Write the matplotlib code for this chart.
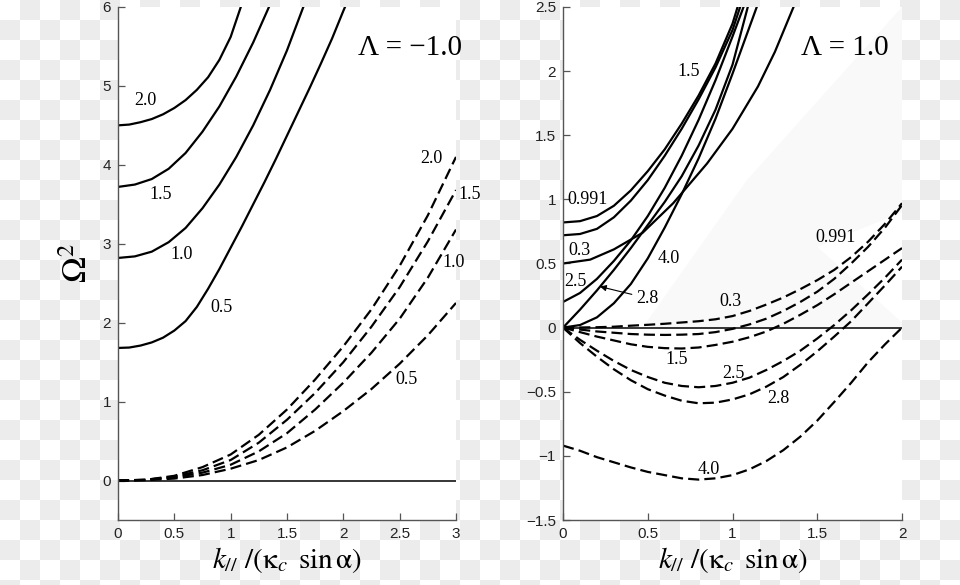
import numpy as np
import matplotlib.pyplot as plt

plt.rcParams['mathtext.fontset'] = 'stix'
plt.rcParams['font.family'] = ['Liberation Sans', 'DejaVu Sans']
SERIF = ['Liberation Serif', 'DejaVu Serif']

# ---- left panel (Lambda = -1.0) ----
l_s20_x = [0, 0.1, 0.2, 0.3, 0.4, 0.5, 0.6, 0.7, 0.8, 0.9, 1.0, 1.09]
l_s20_y = [4.5, 4.51, 4.54, 4.58, 4.64, 4.72, 4.82, 4.95, 5.11, 5.33, 5.62, 6.0]
l_s15_x = [0, 0.15, 0.3, 0.45, 0.6, 0.75, 0.9, 1.05, 1.2, 1.34]
l_s15_y = [3.72, 3.75, 3.82, 3.95, 4.15, 4.42, 4.74, 5.12, 5.55, 6.0]
l_s10_x = [0, 0.15, 0.3, 0.45, 0.6, 0.75, 0.9, 1.05, 1.2, 1.35, 1.5, 1.645]
l_s10_y = [2.82, 2.84, 2.9, 3.02, 3.2, 3.45, 3.75, 4.1, 4.5, 4.95, 5.45, 6.0]
l_s05_x = [0, 0.1, 0.2, 0.3, 0.4, 0.5, 0.6, 0.7, 0.8, 0.9, 1.0, 1.1,
           1.2, 1.3, 1.4, 1.5, 1.6, 1.7, 1.8, 1.9, 2.0, 2.015]
l_s05_y = [1.68, 1.685, 1.71, 1.75, 1.81, 1.9, 2.02, 2.2, 2.43, 2.68, 2.95, 3.22,
           3.5, 3.78, 4.07, 4.37, 4.67, 4.97, 5.28, 5.6, 5.95, 6.0]

l_dash_x = [0, 0.25, 0.5, 0.75, 1.0, 1.25, 1.5, 1.75, 2.0, 2.25, 2.5, 2.75, 3.0]
l_d20 = [0, 0.01, 0.06, 0.17, 0.33, 0.58, 0.9, 1.28, 1.7, 2.17, 2.72, 3.36, 4.1]
l_d15 = [0, 0.01, 0.05, 0.13, 0.26, 0.48, 0.77, 1.11, 1.5, 1.95, 2.45, 3.03, 3.68]
l_d10 = [0, 0.008, 0.04, 0.1, 0.2, 0.37, 0.6, 0.9, 1.24, 1.62, 2.05, 2.57, 3.18]
l_d05 = [0, 0.005, 0.025, 0.07, 0.15, 0.26, 0.42, 0.63, 0.88, 1.16, 1.48, 1.84, 2.25]

# ---- right panel (Lambda = 1.0) ----
r_s0991_x = [0, 0.1, 0.2, 0.3, 0.4, 0.5, 0.6, 0.7, 0.8, 0.9, 1.0, 1.03]
r_s0991_y = [0.82, 0.83, 0.87, 0.95, 1.07, 1.22, 1.39, 1.59, 1.81, 2.06, 2.37, 2.5]
r_s15_x = [0, 0.1, 0.2, 0.3, 0.4, 0.5, 0.6, 0.7, 0.8, 0.9, 1.0, 1.045]
r_s15_y = [0.72, 0.73, 0.77, 0.86, 0.99, 1.15, 1.34, 1.55, 1.78, 2.03, 2.32, 2.5]
r_s03_x = [0, 0.16, 0.3, 0.47, 0.65, 0.85, 1.0, 1.15, 1.25, 1.36]
r_s03_y = [0.5, 0.53, 0.61, 0.74, 0.97, 1.28, 1.55, 1.88, 2.15, 2.5]
r_s25_x = [0, 0.1, 0.2, 0.3, 0.4, 0.5, 0.6, 0.7, 0.8, 0.9, 1.0, 1.065]
r_s25_y = [0.2, 0.27, 0.38, 0.52, 0.68, 0.87, 1.09, 1.34, 1.62, 1.93, 2.27, 2.5]
r_s28_x = [0, 0.1, 0.2, 0.3, 0.4, 0.5, 0.6, 0.7, 0.8, 0.9, 1.0, 1.09]
r_s28_y = [0, 0.14, 0.29, 0.45, 0.62, 0.8, 0.98, 1.18, 1.42, 1.7, 2.05, 2.5]
r_s40_x = [0, 0.1, 0.2, 0.3, 0.4, 0.5, 0.6, 0.7, 0.8, 0.9, 1.0, 1.143]
r_s40_y = [0, 0.02, 0.08, 0.19, 0.34, 0.54, 0.78, 1.04, 1.32, 1.63, 1.98, 2.5]

r_dash_x = [0, 0.1, 0.2, 0.3, 0.4, 0.5, 0.6, 0.7, 0.8, 0.9, 1.0,
            1.1, 1.2, 1.3, 1.4, 1.5, 1.6, 1.7, 1.8, 1.9, 2.0]
r_d03 = [0, 0.001, 0.003, 0.007, 0.015, 0.022, 0.03, 0.04, 0.05, 0.065, 0.09,
         0.13, 0.18, 0.235, 0.3, 0.37, 0.45, 0.55, 0.67, 0.81, 0.97]
r_d0991 = [0, -0.015, -0.03, -0.04, -0.05, -0.055, -0.057, -0.055, -0.05, -0.035, -0.01,
           0.025, 0.07, 0.13, 0.2, 0.28, 0.38, 0.5, 0.63, 0.78, 0.955]
r_d15 = [0, -0.035, -0.07, -0.1, -0.13, -0.15, -0.16, -0.163, -0.155, -0.135, -0.11,
         -0.075, -0.03, 0.03, 0.1, 0.175, 0.26, 0.35, 0.44, 0.53, 0.62]
r_d25 = [0, -0.095, -0.18, -0.26, -0.33, -0.385, -0.43, -0.455, -0.465, -0.455, -0.43,
         -0.39, -0.33, -0.26, -0.18, -0.085, 0.02, 0.135, 0.26, 0.39, 0.53]
r_d28 = [0, -0.12, -0.227, -0.325, -0.41, -0.48, -0.53, -0.57, -0.59, -0.585, -0.56,
         -0.52, -0.46, -0.385, -0.29, -0.185, -0.07, 0.05, 0.19, 0.33, 0.475]
r_d40 = [-0.92, -0.96, -1.01, -1.05, -1.09, -1.125, -1.15, -1.175, -1.185, -1.175, -1.15,
         -1.105, -1.04, -0.955, -0.85, -0.725, -0.58, -0.43, -0.27, -0.13, 0.0]

shade_x = [0.47, 1.085, 2.0, 2.0, 1.5, 2.0, 2.0]
shade_y = [0, 1.15, 2.5, 0.9, 0.63, 0.04, 0]

fig = plt.figure(figsize=(9.6, 5.85), dpi=100)

# checkerboard backdrop (the "transparent" look of the original)
H, W = 585, 960
rows, cols = np.indices((H, W))
board = np.where(((rows // 20) + (cols // 20)) % 2 == 1, 0.922, 1.0)
bg = fig.add_axes([0, 0, 1, 1], zorder=-5)
bg.imshow(board, cmap='gray', vmin=0, vmax=1, interpolation='nearest', aspect='auto')
bg.axis('off')

ax1 = fig.add_axes([0.1229, 0.1111, 0.3521, 0.877])
ax2 = fig.add_axes([0.5865, 0.1111, 0.3531, 0.877])

LW = 1.6
DASH = (0, (5, 2.3))
XLABEL = r'$k_{//}\ /(\mathrm{\kappa}_{c}\ \,\mathrm{sin}\,\mathrm{\alpha})$'


def style(ax):
    for s in ['top', 'right']:
        ax.spines[s].set_visible(False)
    for s in ['left', 'bottom']:
        ax.spines[s].set_color('#555555')
        ax.spines[s].set_linewidth(1.0)
    ax.tick_params(direction='in', length=5, width=0.9, color='#555555',
                   labelsize=11, labelcolor='#222222', pad=5)
    ax.set_xlabel(XLABEL, fontsize=21, labelpad=3)


def lab(ax, x, y, s, **kw):
    ax.text(x, y, s, fontsize=13, family=SERIF, ha='center', va='center',
            clip_on=False, **kw)


# left
for xs, ys in [(l_s20_x, l_s20_y), (l_s15_x, l_s15_y), (l_s10_x, l_s10_y), (l_s05_x, l_s05_y)]:
    ax1.plot(xs, ys, color='black', lw=LW)
for ys in [l_d20, l_d15, l_d10, l_d05]:
    ax1.plot(l_dash_x, ys, color='black', lw=LW, linestyle=DASH)
ax1.plot([0, 3], [0, 0], color='black', lw=1.1)
ax1.set_xlim(0, 3)
ax1.set_ylim(-0.5, 6)
ax1.set_xticks([0, 0.5, 1, 1.5, 2, 2.5, 3])
ax1.set_xticklabels(['0', '0.5', '1', '1.5', '2', '2.5', '3'])
ax1.set_yticks([0, 1, 2, 3, 4, 5, 6])
style(ax1)
ax1.set_ylabel(r'$\Omega^{2}$', fontsize=25, labelpad=6)

lab(ax1, 0.24, 4.82, '2.0')
lab(ax1, 0.375, 3.62, '1.5')
lab(ax1, 0.565, 2.86, '1.0')
lab(ax1, 0.92, 2.19, '0.5')
lab(ax1, 2.785, 4.085, '2.0')
lab(ax1, 3.12, 3.62, '1.5')
lab(ax1, 2.98, 2.76, '1.0')
lab(ax1, 2.56, 1.28, '0.5')
ax1.text(2.59, 5.48, 'Λ = −1.0', fontsize=21, family=SERIF, ha='center', va='center')

# right
ax2.fill(shade_x, shade_y, color='#f9f9f9', zorder=0, lw=0)
for xs, ys in [(r_s0991_x, r_s0991_y), (r_s15_x, r_s15_y), (r_s03_x, r_s03_y),
               (r_s25_x, r_s25_y), (r_s28_x, r_s28_y), (r_s40_x, r_s40_y)]:
    ax2.plot(xs, ys, color='black', lw=LW)
for ys in [r_d03, r_d0991, r_d15, r_d25, r_d28, r_d40]:
    ax2.plot(r_dash_x, ys, color='black', lw=LW, linestyle=DASH)
ax2.plot([0, 2], [0, 0], color='black', lw=1.1)
ax2.set_xlim(0, 2)
ax2.set_ylim(-1.5, 2.5)
ax2.set_xticks([0, 0.5, 1, 1.5, 2])
ax2.set_xticklabels(['0', '0.5', '1', '1.5', '2'])
ax2.set_yticks([-1.5, -1, -0.5, 0, 0.5, 1, 1.5, 2, 2.5])
ax2.set_yticklabels(['−1.5', '−1', '−0.5', '0', '0.5', '1', '1.5', '2', '2.5'])
style(ax2)

lab(ax2, 0.74, 2.0, '1.5')
ax2.text(0.025, 0.995, '0.991', fontsize=13, family=SERIF, ha='left', va='center')
ax2.text(0.03, 0.6, '0.3', fontsize=13, family=SERIF, ha='left', va='center')
ax2.text(0.01, 0.36, '2.5', fontsize=13, family=SERIF, ha='left', va='center')
ax2.text(0.56, 0.54, '4.0', fontsize=13, family=SERIF, ha='left', va='center')
ax2.annotate('2.8', xy=(0.218, 0.32), xytext=(0.43, 0.23), fontsize=13,
             family=SERIF, ha='left', va='center',
             arrowprops=dict(arrowstyle='-|>', color='black', lw=0.8,
                             mutation_scale=9, shrinkA=1, shrinkB=0))
lab(ax2, 1.605, 0.70, '0.991')
lab(ax2, 0.99, 0.205, '0.3')
lab(ax2, 0.67, -0.25, '1.5')
lab(ax2, 1.005, -0.356, '2.5')
lab(ax2, 1.27, -0.55, '2.8')
lab(ax2, 0.86, -1.105, '4.0')
ax2.text(1.664, 2.18, 'Λ = 1.0', fontsize=21, family=SERIF, ha='center', va='center')

fig.savefig('out.png', dpi=100)
